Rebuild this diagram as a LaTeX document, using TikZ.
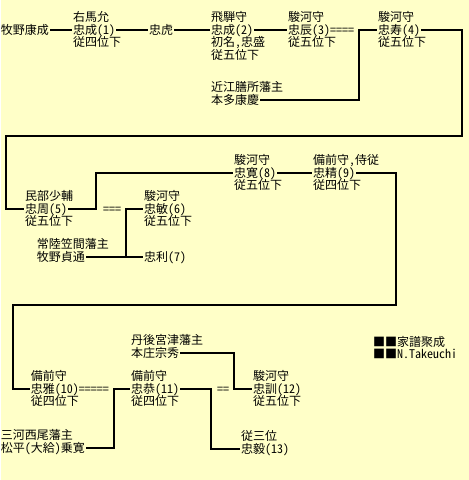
\documentclass[tikz,border=0pt]{standalone}
\usepackage{fontspec}
\setmainfont{Noto Sans CJK JP}[RawFeature=+hwid]
\usepackage{tikz}
\definecolor{bgyellow}{HTML}{FFFFC8}

\begin{document}
\begin{tikzpicture}[x=1pt,y=-1pt,
  font=\fontsize{12pt}{12.5pt}\selectfont,
  nm/.style={anchor=west,inner xsep=1pt,inner ysep=0pt,outer sep=0pt,text height=10.5pt,text depth=2pt},
  up/.style={nm,anchor=south west},
  dn/.style={nm,anchor=north west},
  link/.style={line width=2.3pt}]
  \fill[bgyellow] (0,0) rectangle (468,480);
  % first row
  \node[nm] (yasunari) at (-1,30) {牧野康成};
  \node[nm,label={[up]north west:右馬允},label={[dn]south west:従四位下}] (tadanari1) at (71,30) {忠成(1)};
  \node[nm] (tadatora) at (147,30) {忠虎};
  \node[nm,label={[up]north west:飛騨守},label={[dn]south west:初名,忠盛},
    label={[dn,yshift=-12.5pt]south west:従五位下}] (tadanari2) at (209,30) {忠成(2)};
  \node[nm,label={[up]north west:駿河守},label={[dn]south west:従五位下}] (tadatoki3) at (286,30) {忠辰(3)====};
  \node[nm,label={[up]north west:駿河守},label={[dn]south west:従五位下}] (tadahisa4) at (376,30) {忠寿(4)};
  \node[nm,label={[up]north west:近江膳所藩主}] (yasunori) at (209,100) {本多康慶};
  \coordinate (j4) at (358,30);
  \coordinate (r4) at (461,136);
  \coordinate (l4) at (5,136);
  \draw[link] (yasunari) -- (tadanari1) -- (tadatora) -- (tadanari2) -- (tadatoki3);
  \draw[link] (yasunori) -| (j4) -- (tadahisa4);
  % second row
  \node[nm,label={[up]north west:民部少輔},label={[dn]south west:従五位下}] (tadachika5) at (23,209) {忠周(5)};
  \node[nm] (eq5) at (101,209) {===};
  \node[nm,label={[up]north west:駿河守},label={[dn]south west:従五位下}] (tadatoshi6) at (142,209) {忠敏(6)};
  \node[nm] (tadatoshi7) at (142,257) {忠利(7)};
  \node[nm,label={[up]north west:常陸笠間藩主}] (sadamichi) at (35,257) {牧野貞通};
  \node[nm,label={[up]north west:駿河守},label={[dn]south west:従五位下}] (tadahiro8) at (232,173) {忠寛(8)};
  \node[nm,label={[up]north west:備前守,侍従},label={[dn]south west:従四位下}] (tadakiyo9) at (311,173) {忠精(9)};
  \coordinate (j5) at (95,173);
  \coordinate (j6) at (125,257);
  \coordinate (r9) at (395,305);
  \coordinate (l9) at (12,305);
  \draw[link] (tadahisa4) -| (r4) -- (l4) |- (tadachika5);
  \draw[link] (tadachika5) -| (j5) -- (tadahiro8) -- (tadakiyo9);
  \draw[link] (sadamichi) -- (tadatoshi7);
  \draw[link] (j6) |- (tadatoshi6);
  % third row
  \node[nm,label={[up]north west:備前守},label={[dn]south west:従四位下}] (tadamasa10) at (29,389) {忠雅(10)=====};
  \node[nm,label={[up]north west:備前守},label={[dn]south west:従四位下}] (tadayoshi11) at (129,389) {忠恭(11)};
  \node[nm,label={[up]north west:三河西尾藩主}] (norihiro) at (-1,448) {松平(大給)乗寛};
  \node[nm,label={[up]north west:丹後宮津藩主}] (munehide) at (129,353) {本庄宗秀};
  \node[nm] (eq11) at (215,389) {==};
  \node[nm,label={[up]north west:駿河守},label={[dn]south west:従五位下}] (tadakuni12) at (251,389) {忠訓(12)};
  \node[nm,label={[up]north west:従三位}] (tadakata13) at (239,449) {忠毅(13)};
  \coordinate (j11) at (113,389);
  \coordinate (j12) at (233,389);
  \coordinate (j13) at (210,449);
  \draw[link] (tadakiyo9) -| (r9) -- (l9) |- (tadamasa10);
  \draw[link] (norihiro) -| (j11) -- (tadayoshi11);
  \draw[link] (munehide) -| (j12) -- (tadakuni12);
  \draw[link] (tadayoshi11) -| (j13) -- (tadakata13);
  % credit
  \node[nm] (credit) at (371,342) {■■家譜聚成};
  \node[nm] (author) at (371,354) {■■N.Takeuchi};
\end{tikzpicture}
\end{document}
